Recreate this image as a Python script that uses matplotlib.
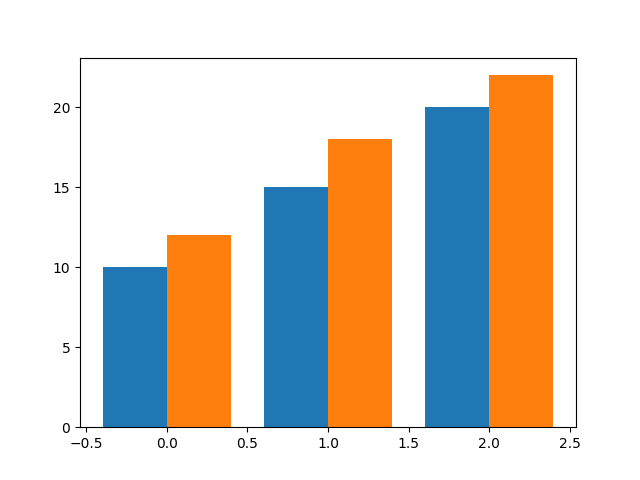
import matplotlib
matplotlib.use('Agg')
import matplotlib.pyplot as plt
import numpy as np

x = np.arange(3)
series_a = [10, 15, 20]
series_b = [12, 18, 22]

width = 0.4

fig, ax = plt.subplots(figsize=(6.4, 4.8), dpi=100)
ax.bar(x - width / 2, series_a, width)
ax.bar(x + width / 2, series_b, width)

fig.savefig('out.png')
